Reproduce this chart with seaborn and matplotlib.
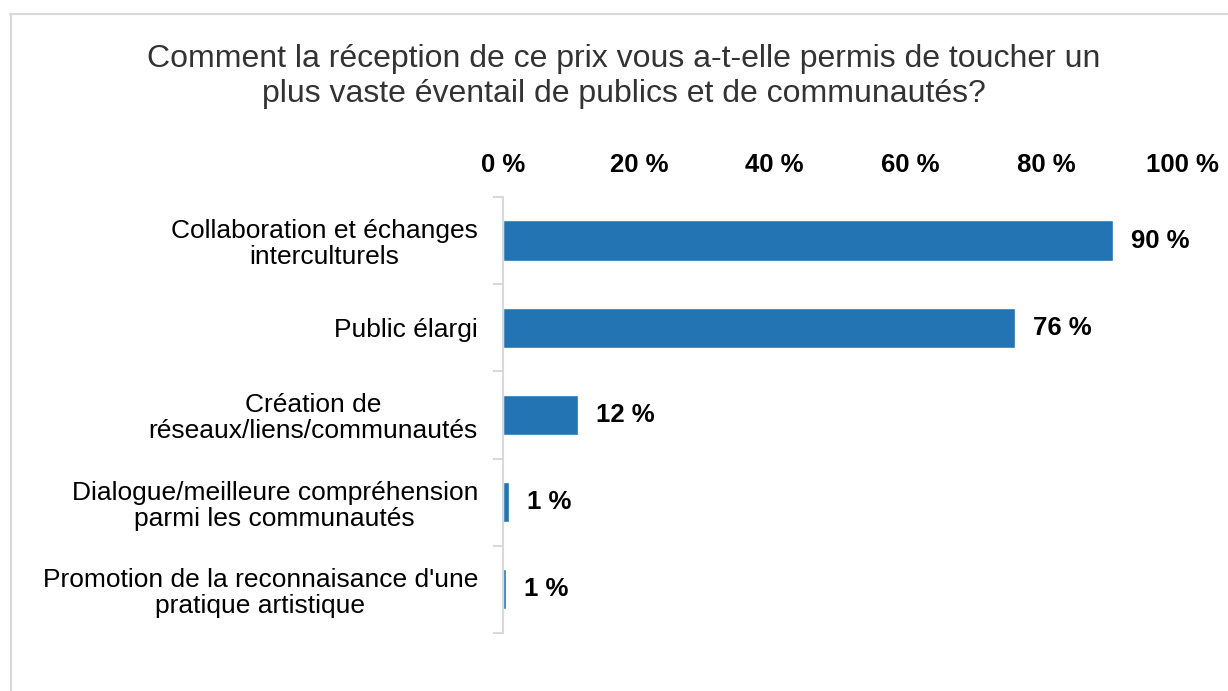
import matplotlib
matplotlib.use("Agg")
import matplotlib.pyplot as plt
import matplotlib.ticker as mtick
from matplotlib.lines import Line2D
import pandas as pd
import seaborn as sns

categorias = [
    "Collaboration et échanges\ninterculturels",
    "Public élargi",
    "Création de\nréseaux/liens/communautés",
    "Dialogue/meilleure compréhension\nparmi les communautés",
    "Promotion de la reconnaisance d'une\npratique artistique",
]
valores = [89.8, 75.4, 11.1, 0.9, 0.4]
etiquetas = ["90 %", "76 %", "12 %", "1 %", "1 %"]
ticks_x = [0, 20, 40, 60, 80, 100]
titulo = ("Comment la réception de ce prix vous a-t-elle permis de toucher un\n"
          "plus vaste éventail de publics et de communautés?")

sns.set_style("white")
plt.rcParams['font.family'] = ['Liberation Sans', 'DejaVu Sans']

df = pd.DataFrame({"categoria": categorias, "valor": valores})

fig = plt.figure(figsize=(12.28, 6.91), dpi=100)
ax = fig.add_axes([0.4096, 0.084, 0.553, 0.631])

sns.barplot(data=df, y="categoria", x="valor", color="#2274B3",
            width=0.46, saturation=1, ax=ax)

ax.set_xlim(0, 100)
ax.set_ylim(4.5, -0.5)
ax.xaxis.tick_top()
ax.set_xticks(ticks_x)
ax.xaxis.set_major_formatter(mtick.FuncFormatter(lambda v, p: f"{v:.0f} %"))
ax.tick_params(axis="x", length=0, pad=14, labelsize=18.5, labelcolor="black")
for t in ax.get_xticklabels():
    t.set_fontweight("bold")

ax.set_yticks(range(len(categorias)))
ax.set_yticklabels(categorias, multialignment="center", linespacing=1.1)
ax.tick_params(axis="y", which="major", length=0, pad=18, labelsize=19,
               labelcolor="black")
ax.set_yticks([i + 0.5 for i in range(-1, 5)], minor=True)
ax.tick_params(axis="y", which="minor", left=True, length=7,
               color="#d9d9d9", width=1.5)

ax.set_xlabel("")
ax.set_ylabel("")
for s in ["top", "right", "bottom"]:
    ax.spines[s].set_visible(False)
ax.spines["left"].set_color("#d9d9d9")
ax.spines["left"].set_linewidth(1.5)

for i, (v, lab) in enumerate(zip(valores, etiquetas)):
    ax.annotate(lab, (v, i), xytext=(13, 0), textcoords="offset points",
                va="center", ha="left", fontsize=18.5, fontweight="bold",
                color="black")

fig.text(0.508, 0.936, titulo, ha="center", va="top", fontsize=23,
         color="#333333", linespacing=1.2)

# marco exterior (solo se ven el borde superior y el izquierdo)
fig.add_artist(Line2D([10/1228, 1.0], [1 - 13.5/691, 1 - 13.5/691],
                      transform=fig.transFigure, color="#d9d9d9", lw=1.5))
fig.add_artist(Line2D([10.5/1228, 10.5/1228], [0, 1 - 13.5/691],
                      transform=fig.transFigure, color="#d9d9d9", lw=1.5))

fig.savefig("out.png", dpi=100)
